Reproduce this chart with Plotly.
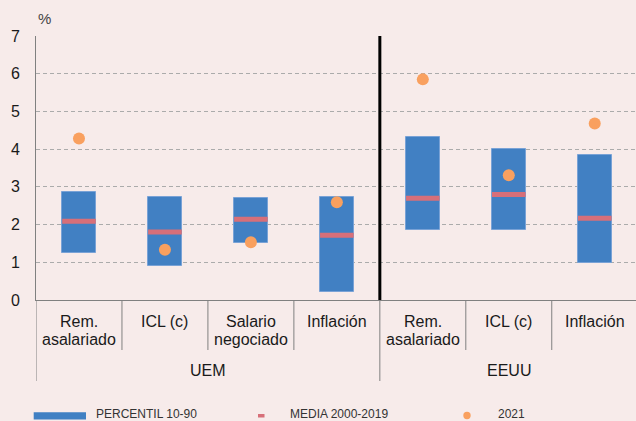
import plotly.graph_objects as go

# ---- data ----
categories = ["Rem.<br>asalariado", "ICL (c)", "Salario<br>negociado", "Inflación",
              "Rem.<br>asalariado", "ICL (c)", "Inflación"]
groups = ["UEM", "EEUU"]
group_sizes = [4, 3]
p10 = [1.24, 0.91, 1.50, 0.21, 1.86, 1.86, 0.98]
p90 = [2.86, 2.74, 2.70, 2.74, 4.31, 4.00, 3.84]
media = [2.09, 1.80, 2.14, 1.72, 2.70, 2.80, 2.17]
y2021 = [4.28, 1.33, 1.53, 2.59, 5.85, 3.31, 4.68]
y_ticks = [0, 1, 2, 3, 4, 5, 6, 7]
legend_labels = ["PERCENTIL 10-90", "MEDIA 2000-2019", "2021"]

# ---- style ----
BG = "#F7EBEA"
BLUE = "#4180C3"
RED = "#D76F79"
ORANGE = "#F9A05F"
GRID = "#ABABAB"
AXIS = "#808080"
TXT = "#1a1a1a"
FONT = "Liberation Sans, Arial, sans-serif"

W, H = 636, 421
ML, MR, MT, MB = 36, 0, 36, 121
PW, PH = W - ML - MR, H - MT - MB

def px_x(px):
    return (px - ML) / PW

def px_y(py):
    return (H - MB - py) / PH

xs = list(range(len(categories)))

fig = go.Figure()
fig.add_trace(go.Bar(
    x=xs, y=[h - l for h, l in zip(p90, p10)], base=p10, width=0.4,
    marker=dict(color=BLUE, line=dict(color="#79A2D6", width=1)),
    name=legend_labels[0], showlegend=False, hoverinfo="skip"))
fig.add_trace(go.Scatter(
    x=xs, y=media, mode="markers", name=legend_labels[1], showlegend=False,
    marker=dict(symbol="line-ew", size=24, line=dict(width=5, color=RED))))
fig.add_trace(go.Scatter(
    x=xs, y=y2021, mode="markers", name=legend_labels[2], showlegend=False,
    marker=dict(symbol="circle", size=12, color=ORANGE)))

shapes = []
annotations = []

# vertical black separator between groups
shapes.append(dict(type="line", xref="x", yref="y", x0=group_sizes[0] - 0.5,
                   x1=group_sizes[0] - 0.5, y0=0, y1=7,
                   line=dict(color="black", width=3)))

# category separators (short) and group separators (long)
group_bounds = [-0.5]
acc = -0.5
for s in group_sizes:
    acc += s
    group_bounds.append(acc)
for i in range(len(categories) - 1):
    b = i + 0.5
    if b in group_bounds:
        continue
    shapes.append(dict(type="line", xref="x", yref="paper", x0=b, x1=b,
                       y0=0, y1=px_y(350), line=dict(color=AXIS, width=1)))
for b in group_bounds[:-1]:
    shapes.append(dict(type="line", xref="x", yref="paper", x0=b, x1=b,
                       y0=0, y1=px_y(381), line=dict(color=AXIS, width=1)))

# category labels
line_y = [321, 339]
for i, c in enumerate(categories):
    for j, part in enumerate(c.split("<br>")):
        annotations.append(dict(x=i, y=px_y(line_y[j]), xref="x", yref="paper",
                                text=part, showarrow=False, xanchor="center",
                                yanchor="middle",
                                font=dict(size=16, color=TXT, family=FONT)))
# group labels
start = 0
for g, s in zip(groups, group_sizes):
    annotations.append(dict(x=start + (s - 1) / 2, y=px_y(370.5), xref="x", yref="paper",
                            text=g, showarrow=False, xanchor="center", yanchor="middle",
                            font=dict(size=16, color=TXT, family=FONT)))
    start += s

# % label
annotations.append(dict(x=px_x(36), y=px_y(19), xref="paper", yref="paper", text="%",
                        showarrow=False, xanchor="left", yanchor="middle",
                        font=dict(size=15, color="#444444", family=FONT)))

# manual legend
ly = 413.5
shapes.append(dict(type="rect", xref="paper", yref="paper", x0=px_x(33.7), x1=px_x(86),
                   y0=px_y(419.5), y1=px_y(412.2), fillcolor=BLUE, line=dict(width=0)))
shapes.append(dict(type="rect", xref="paper", yref="paper", x0=px_x(258), x1=px_x(264.5),
                   y0=px_y(417.5), y1=px_y(414), fillcolor=RED, line=dict(width=0)))
shapes.append(dict(type="circle", xref="paper", yref="paper", x0=px_x(463.3), x1=px_x(470.7),
                   y0=px_y(419.2), y1=px_y(411.8), fillcolor=ORANGE, line=dict(width=0)))
for lbl, lx in zip(legend_labels, [94, 288.4, 495.7]):
    annotations.append(dict(x=px_x(lx), y=px_y(ly), xref="paper", yref="paper", text=lbl,
                            showarrow=False, xanchor="left", yanchor="middle",
                            font=dict(size=12, color="#333333", family=FONT)))

fig.update_layout(
    width=W, height=H,
    margin=dict(l=ML, r=MR, t=MT, b=MB, pad=0),
    paper_bgcolor=BG, plot_bgcolor=BG,
    showlegend=False,
    shapes=shapes, annotations=annotations,
    bargap=0,
    xaxis=dict(range=[-0.5, 6.48], showticklabels=False, showgrid=False, zeroline=False,
               showline=True, linecolor=AXIS, linewidth=1, ticks=""),
    yaxis=dict(range=[0, 7], tickvals=y_ticks, showgrid=True, gridcolor=GRID, gridwidth=1,
               griddash="4px,3px", zeroline=False, showline=True, linecolor=AXIS, linewidth=1,
               ticks="outside", ticklen=12, tickcolor="rgba(0,0,0,0)",
               tickfont=dict(size=16, color=TXT, family=FONT)),
)

fig.write_html("out.html", config={"displayModeBar": False},
               post_script="document.body.style.margin='0';document.body.style.overflow='hidden';")
